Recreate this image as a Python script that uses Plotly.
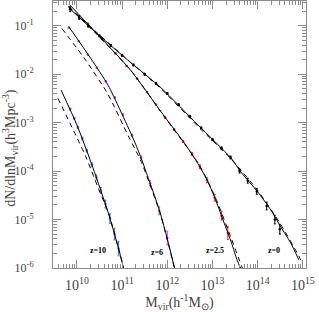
import plotly.graph_objects as go
import numpy as np

# ---- data (log10 values) ----
# z = 0
z0_solid_logm = [9.82, 10.44, 11.19, 11.86, 12.68, 13.41, 13.63, 14.0, 14.29, 14.51, 14.73, 14.91]
z0_solid_logn = [-0.63, -1.16, -1.76, -2.28, -3.05, -3.73, -4.02, -4.43, -4.80, -5.15, -5.48, -5.83]
z0_dash_logm = [9.8, 10.44, 11.19, 11.86, 12.68, 13.41, 14.0, 14.51, 14.91, 14.96]
z0_dash_logn = [-0.60, -1.14, -1.76, -2.30, -3.08, -3.75, -4.40, -5.10, -5.75, -5.85]
z0_pts_logm = [9.85, 10.05, 10.25, 10.5, 10.75, 11.0, 11.25, 11.5, 11.75, 12.0, 12.25, 12.5,
               12.75, 13.0, 13.2, 13.4, 13.6, 13.78, 13.98, 14.2, 14.38, 14.49]
z0_pts_logn = [-0.66, -0.83, -1.0, -1.21, -1.41, -1.61, -1.81, -2.0, -2.19, -2.4, -2.63, -2.87,
               -3.11, -3.35, -3.53, -3.72, -4.0, -4.2, -4.42, -4.72, -5.0, -5.2]
z0_pts_err = [0.05, 0.04, 0.03, 0.02, 0.02, 0.02, 0.02, 0.02, 0.02, 0.02, 0.02, 0.02,
              0.02, 0.02, 0.03, 0.03, 0.04, 0.05, 0.06, 0.08, 0.09, 0.10]

# z = 2.5
z25_solid_logm = [9.82, 10.44, 11.19, 11.92, 12.4, 12.7, 12.9, 13.08, 13.25, 13.42, 13.55, 13.62]
z25_solid_logn = [-0.55, -1.16, -1.92, -2.85, -3.45, -3.88, -4.22, -4.62, -5.05, -5.48, -5.85, -6.0]
z25_dash_logm = [9.82, 10.44, 11.19, 11.92, 12.7, 13.08, 13.42, 13.66]
z25_dash_logn = [-0.60, -1.18, -1.92, -2.86, -3.86, -4.58, -5.40, -6.0]
z25_pts_logm = [10.24, 10.55, 10.85, 11.1, 11.33, 11.55, 11.75, 11.95, 12.15, 12.35, 12.55,
                12.72, 12.88, 13.05, 13.2, 13.34]
z25_pts_logn = [-0.96, -1.27, -1.57, -1.83, -2.09, -2.37, -2.63, -2.89, -3.14, -3.39, -3.65,
                -3.91, -4.19, -4.55, -4.92, -5.28]
z25_pts_err = [0.01, 0.01, 0.01, 0.01, 0.01, 0.01, 0.01, 0.02, 0.02, 0.02, 0.03,
               0.04, 0.05, 0.07, 0.09, 0.13]

# z = 6
z6_solid_logm = [9.82, 10.31, 10.69, 11.26, 11.42, 11.6, 11.84, 12.0, 12.16]
z6_solid_logn = [-1.02, -1.68, -2.23, -3.36, -3.73, -4.2, -4.85, -5.4, -6.0]
z6_dash_logm = [9.67, 10.2, 10.69, 11.15, 11.42, 11.84, 12.16]
z6_dash_logn = [-1.06, -1.72, -2.42, -3.3, -3.8, -4.87, -6.0]
z6_pts_logm = [9.82, 10.04, 10.24, 10.44, 10.64, 10.84, 11.02, 11.22, 11.42, 11.62, 11.82, 12.0]
z6_pts_logn = [-1.04, -1.32, -1.6, -1.87, -2.15, -2.48, -2.84, -3.26, -3.72, -4.25, -4.82, -5.38]
z6_pts_err = [0.01, 0.01, 0.01, 0.01, 0.01, 0.01, 0.02, 0.02, 0.03, 0.05, 0.08, 0.14]

# z = 10
z10_solid_logm = [9.65, 10.0, 10.35, 10.7, 10.95, 11.03]
z10_solid_logn = [-2.33, -3.05, -3.92, -4.88, -5.7, -6.0]
z10_dash_logm = [9.58, 10.2, 10.45, 10.71, 10.95, 11.03]
z10_dash_logn = [-2.5, -3.71, -4.3, -4.9, -5.7, -6.0]
z10_pts_logm = [9.85, 9.94, 10.02, 10.12, 10.22, 10.33, 10.43, 10.53, 10.63, 10.73, 10.83, 10.92]
z10_pts_logn = [-2.72, -2.91, -3.1, -3.33, -3.58, -3.87, -4.13, -4.4, -4.68, -4.98, -5.3, -5.6]
z10_pts_err = [0.02, 0.02, 0.02, 0.03, 0.03, 0.04, 0.05, 0.06, 0.08, 0.10, 0.12, 0.15]

labels = ["z=10", "z=6", "z=2.5", "z=0"]
label_logm = [10.46, 11.77, 13.05, 14.36]
label_logn = [-5.64, -5.68, -5.64, -5.64]

x_tick_exp = [10, 11, 12, 13, 14, 15]
y_tick_exp = [-6, -5, -4, -3, -2, -1]

x_title = "M<sub>vir</sub>(h<sup>-1</sup>M<sub>⊙</sub>)"
y_title = "dN/dlnM<sub>vir</sub>(h<sup>3</sup>Mpc<sup>-3</sup>)"

series = [
    (z10_solid_logm, z10_solid_logn, z10_dash_logm, z10_dash_logn, z10_pts_logm, z10_pts_logn, z10_pts_err, "#4a6cff"),
    (z6_solid_logm, z6_solid_logn, z6_dash_logm, z6_dash_logn, z6_pts_logm, z6_pts_logn, z6_pts_err, "#b44dff"),
    (z25_solid_logm, z25_solid_logn, z25_dash_logm, z25_dash_logn, z25_pts_logm, z25_pts_logn, z25_pts_err, "#ff2020"),
    (z0_solid_logm, z0_solid_logn, z0_dash_logm, z0_dash_logn, z0_pts_logm, z0_pts_logn, z0_pts_err, "#000000"),
]

fig = go.Figure()
for sm, sn, dm, dn, pm, pn, pe, col in series:
    px = 10 ** np.array(pm)
    py = 10 ** np.array(pn)
    pe = np.array(pe)
    up = 10 ** (np.array(pn) + pe) - py
    lo = py - 10 ** (np.array(pn) - pe)
    fig.add_trace(go.Scatter(x=px, y=py, mode="markers",
                             marker=dict(color=col, size=2.5),
                             error_y=dict(type="data", symmetric=False, array=up, arrayminus=lo,
                                          color=col, thickness=1, width=1),
                             showlegend=False, hoverinfo="skip"))
    fig.add_trace(go.Scatter(x=10 ** np.array(dm), y=10 ** np.array(dn), mode="lines",
                             line=dict(color="black", width=1, dash="5px,4px", shape="spline", smoothing=0.6),
                             showlegend=False, hoverinfo="skip"))
    fig.add_trace(go.Scatter(x=10 ** np.array(sm), y=10 ** np.array(sn), mode="lines",
                             line=dict(color="black", width=1, shape="spline", smoothing=0.6),
                             showlegend=False, hoverinfo="skip"))

for t, lm, ln in zip(labels, label_logm, label_logn):
    fig.add_annotation(x=lm, y=ln, xref="x", yref="y", text="<b>" + t + "</b>", showarrow=False,
                       font=dict(family="Liberation Serif", size=8, color="black"))

# y-axis title as rotated text left of the tick labels
fig.add_annotation(x=0, y=0.45, xref="paper", yref="paper", xshift=-43, text=y_title,
                   textangle=-90, showarrow=False, xanchor="center", yanchor="middle",
                   font=dict(family="Liberation Serif", size=14, color="#444"))

def minor_vals(lo, hi):
    vals = []
    for e in range(lo, hi + 1):
        for d in range(2, 10):
            vals.append(d * 10.0 ** e)
    return vals

axis_col = "#8c8c8c"
fig.update_xaxes(type="log", range=[9.47, 15.07], automargin=False,
                 tickvals=[10.0 ** e for e in x_tick_exp],
                 ticktext=["10<sup>%d</sup>" % e for e in x_tick_exp],
                 ticks="inside", ticklen=8, tickwidth=1, tickcolor=axis_col,
                 minor=dict(tickvals=minor_vals(9, 15), ticks="inside", ticklen=4, tickcolor=axis_col, tickwidth=1),
                 showline=True, linecolor=axis_col, linewidth=1, mirror="allticks",
                 showgrid=False, zeroline=False, ticklabelstandoff=4,
                 tickfont=dict(family="Liberation Serif", size=14, color="#444"),
                 title=dict(text=x_title,
                            font=dict(family="Liberation Serif", size=14, color="#444"), standoff=4))
fig.update_yaxes(type="log", range=[-6, -0.49], automargin=False,
                 tickvals=[10.0 ** e for e in y_tick_exp],
                 ticktext=["10<sup>%d</sup>" % e for e in y_tick_exp],
                 ticks="inside", ticklen=8, tickwidth=1, tickcolor=axis_col,
                 minor=dict(tickvals=minor_vals(-7, 0), ticks="inside", ticklen=4, tickcolor=axis_col, tickwidth=1),
                 showline=True, linecolor=axis_col, linewidth=1, mirror="allticks",
                 showgrid=False, zeroline=False, ticklabelstandoff=16,
                 tickfont=dict(family="Liberation Serif", size=12, color="#444"))

fig.update_layout(width=319, height=312, margin=dict(l=53, r=13, t=1, b=44),
                  paper_bgcolor="white", plot_bgcolor="white")
fig.write_html("out.html", config={"displayModeBar": False},
               post_script="document.body.style.margin='0px';document.body.style.padding='0px';")
